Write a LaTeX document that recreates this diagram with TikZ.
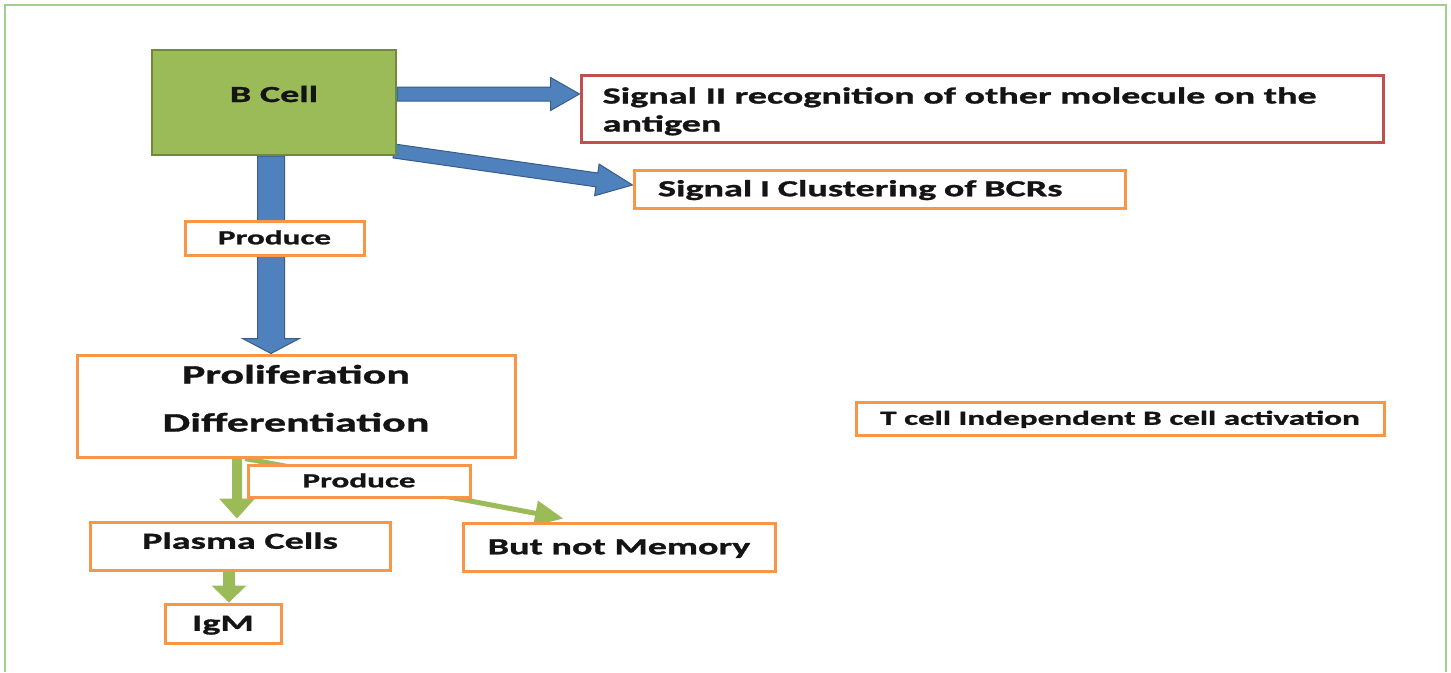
\documentclass[tikz,border=0pt]{standalone}
\usepackage{fontspec}
\usetikzlibrary{calc,backgrounds}
\newfontfamily\lblfont{Carlito}[FakeStretch=1.66, FakeBold=1.2]
\definecolor{cellgreen}{HTML}{9BBB59}
\definecolor{cellgreendark}{HTML}{71893F}
\definecolor{arrowblue}{HTML}{4F81BD}
\definecolor{arrowbluedark}{HTML}{385D8A}
\definecolor{boxorange}{HTML}{F79646}
\definecolor{boxred}{HTML}{C0504D}
\definecolor{framegreen}{HTML}{A3CF8C}
\definecolor{inkdark}{HTML}{141414}
% block arrow: #1 style, #2 start, #3 tip, #4 half shaft width, #5 half head width, #6 head length
\newcommand\blockarrow[6]{%
  \coordinate (ba-s) at #2;
  \coordinate (ba-e) at #3;
  \coordinate (ba-h) at ($(ba-e)!#6!(ba-s)$);
  \filldraw[#1] ($(ba-s)!#4!90:(ba-e)$) -- ($(ba-h)!#4!-90:(ba-s)$)
    -- ($(ba-h)!#5!-90:(ba-s)$) -- (ba-e) -- ($(ba-h)!#5!90:(ba-s)$)
    -- ($(ba-h)!#4!90:(ba-s)$) -- ($(ba-s)!#4!-90:(ba-e)$) -- cycle;
}
\begin{document}
\begin{tikzpicture}[x=1pt,y=-1pt,
  lbl/.style={font=\lblfont\bfseries\fontsize{23}{28}\selectfont, text=inkdark},
  lblsmall/.style={font=\lblfont\bfseries\fontsize{20}{24}\selectfont, text=inkdark},
  lblbig/.style={font=\lblfont\bfseries\fontsize{26.5}{32}\selectfont, text=inkdark},
  capcentre/.style={text height=#1, text depth=0pt},
  box/.style={draw=boxorange, line width=3pt, fill=white, inner sep=0pt},
  redbox/.style={box, draw=boxred},
  cellbox/.style={fill=cellgreen, draw=cellgreendark, line width=2pt, inner sep=0pt},
  textline/.style={inner sep=0pt},
  bluearrow/.style={fill=arrowblue, draw=arrowbluedark, line width=1pt, line join=miter},
  greenarrow/.style={fill=cellgreen, draw=none},
]
\useasboundingbox (0,0) rectangle (1451,672);

% boxes
\node[cellbox, lbl, minimum width=244pt, minimum height=105pt,
      text height=14.5pt, text depth=15.5pt] (bcell) at (274,102.5) {B Cell};
\node[redbox, minimum width=802pt, minimum height=67pt] (sig2) at (982,108.5) {};
\node[textline, lbl, anchor=base west] (sig2a) at ($(sig2.north west)+(23,30)$)
      {Signal II recognition of other molecule on the};
\node[textline, lbl, anchor=base west] (sig2b) at ($(sig2.north west)+(23,58)$) {antigen};
\node[box, lbl, capcentre=14.5pt, minimum width=491pt, minimum height=38pt,
      text width=443pt, align=left] (sig1) at (879.5,189) {Signal I Clustering of BCRs};
\node[box, lblsmall, capcentre=12.6pt, minimum width=179pt, minimum height=34pt]
      (produceA) at (274.5,238) {Produce};
\node[box, minimum width=438pt, minimum height=102pt] (prolif) at (296,406) {};
\node[textline, lblbig, anchor=base] (prolifa) at ($(prolif.north)+(0,30)$) {Proliferation};
\node[textline, lblbig, anchor=base] (prolifb) at ($(prolif.north)+(0,78)$) {Differentiation};
\node[box, lblsmall, capcentre=12.6pt, minimum width=528pt, minimum height=33pt]
      (tcell) at (1120,418.5) {T cell Independent B cell activation};
\node[box, lblsmall, capcentre=12.6pt, minimum width=222pt, minimum height=32pt]
      (produceB) at (359,481) {Produce};
\node[box, lbl, text height=14.5pt, text depth=9pt, minimum width=300pt, minimum height=48pt]
      (plasma) at (240,546) {Plasma Cells};
\node[box, lbl, capcentre=14.5pt, minimum width=312pt, minimum height=48pt]
      (memory) at (619,547) {But not Memory};
\node[box, lbl, capcentre=14.5pt, minimum width=116pt, minimum height=39pt]
      (igm) at (223,623.5) {IgM};

% frame and connectors, drawn beneath the boxes
\begin{scope}[on background layer]
  \fill[white] (0,0) rectangle (1451,672);
  \draw[framegreen, line width=2pt] (5,672) -- (5,5) -- (1446,5) -- (1446,672);
  \coordinate (sigIIfrom) at ($(bcell.east)+(0,-8.5)$);
  \blockarrow{bluearrow}{(sigIIfrom)}{(sig2.west |- sigIIfrom)}{7pt}{16.5pt}{29pt}
  \blockarrow{bluearrow}{($(bcell.south east)+(-3,-5)$)}{($(sig1.west)+(0,-4)$)}{7pt}{16pt}{36pt}
  \coordinate (prodfrom) at ($(bcell.south)+(-3,0)$);
  \blockarrow{bluearrow}{(prodfrom)}{(prodfrom |- prolif.north)}{13.5pt}{28.5pt}{15pt}
  \coordinate (plasmafrom) at ($(prolif.south)+(-59,0)$);
  \blockarrow{greenarrow}{(plasmafrom)}{($(plasmafrom |- plasma.north)+(0,-2)$)}{5pt}{18pt}{20pt}
  \coordinate (igmto) at ($(igm.north)+(6,0)$);
  \blockarrow{greenarrow}{(igmto |- plasma.south)}{(igmto)}{6pt}{17.5pt}{17pt}
  \blockarrow{greenarrow}{($(prolif.south)+(-51,0)$)}{($(memory.north)+(-56,-3)$)}{2.5pt}{13pt}{28pt}
\end{scope}
\end{tikzpicture}
\end{document}
